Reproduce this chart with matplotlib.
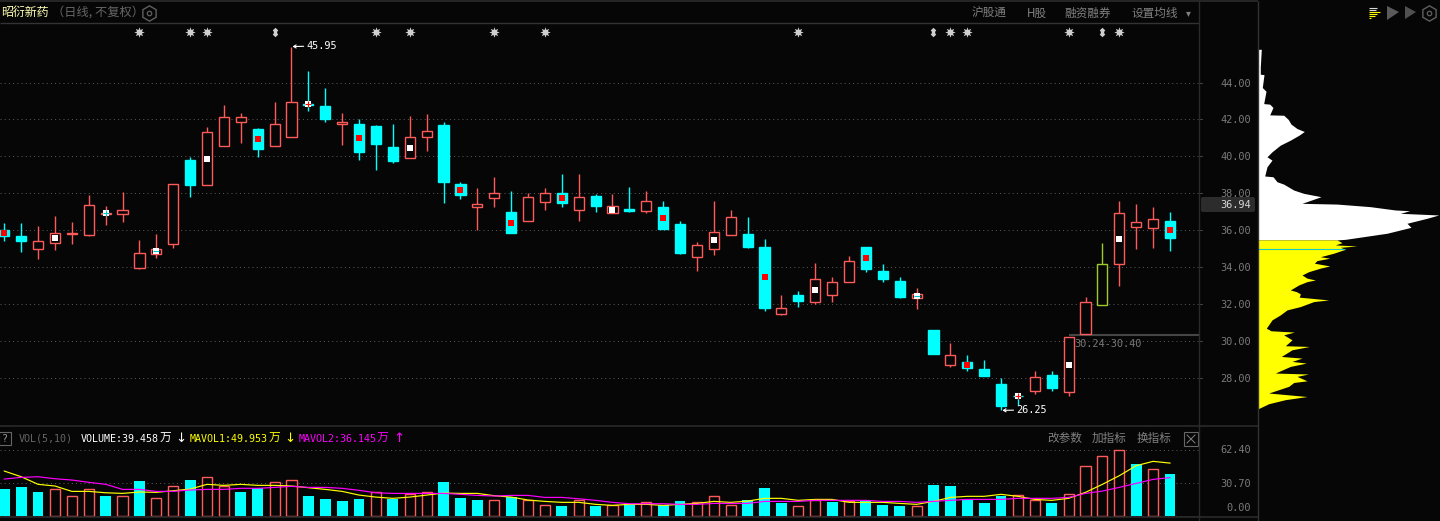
import matplotlib
matplotlib.use("Agg")
import matplotlib.pyplot as plt
import matplotlib.patches as mpatches
import matplotlib.transforms as mtrans
import numpy as np

W, H = 1440, 521
BG = "#060606"
RED = "#ff5a5a"
CYAN = "#00ffff"
GREEN = "#9ecb2a"
GRAY = "#7a7a7a"
CJK = ["Noto Sans CJK SC", "DejaVu Sans"]
MONO = ["DejaVu Sans Mono", "Noto Sans CJK SC"]

opens = [36.02,35.69,34.97,35.30,35.82,35.76,36.90,36.90,33.98,34.74,35.28,39.78,38.46,40.57,41.87,41.48,40.57,41.06,42.83,42.72,
         41.76,41.75,41.64,40.50,39.92,41.06,41.68,38.50,37.28,37.76,36.99,36.52,37.55,38.02,37.11,37.85,36.95,37.15,37.06,37.26,
         36.34,34.57,35.01,35.76,35.80,35.10,31.49,32.50,32.14,32.52,33.22,35.10,33.80,33.26,32.36,30.61,28.68,28.88,28.50,27.69,
         27.05,27.28,28.18,27.22,30.41,31.98,34.19,36.19,36.14,36.50]
closes = [35.69,35.44,35.41,35.84,35.86,37.35,36.95,37.08,34.76,34.97,38.49,38.45,41.30,42.16,42.11,40.41,41.78,42.97,42.80,42.02,
          41.85,40.23,40.66,39.75,41.03,41.35,38.61,37.91,37.41,38.00,35.85,37.78,38.00,37.48,37.78,37.31,37.30,37.04,37.57,36.07,
          34.77,35.19,35.89,36.70,35.10,31.80,31.78,32.18,33.35,33.19,34.32,33.91,33.37,32.39,32.56,29.31,29.24,28.56,28.12,26.50,
          27.01,28.05,27.48,30.22,32.11,34.16,36.92,36.43,36.59,35.58]
highs = [36.38,36.38,36.23,36.77,36.45,37.91,37.31,38.07,35.48,35.80,38.49,39.95,41.58,42.76,42.34,41.53,42.92,45.95,44.61,43.69,
         42.34,42.00,41.68,41.75,42.18,42.29,41.89,38.59,38.29,38.88,38.12,38.02,38.29,39.04,39.04,37.96,37.96,38.34,38.12,37.58,
         36.50,35.37,37.58,37.10,36.72,35.53,32.50,32.72,34.23,33.48,34.61,35.10,34.18,33.48,32.88,30.61,29.91,29.26,28.99,28.02,
         27.21,28.39,28.39,30.24,32.39,35.31,37.58,37.42,37.26,36.99]
lows = [35.44,34.84,34.46,34.94,35.26,35.69,36.29,36.45,33.89,34.50,35.04,37.82,38.46,40.57,40.72,39.98,40.57,41.06,42.45,41.85,
        40.61,39.80,39.26,39.64,39.92,40.29,37.49,37.69,36.00,37.26,35.85,36.52,37.10,37.26,36.50,36.99,36.95,36.99,36.94,36.07,
        34.72,33.80,34.66,35.76,35.04,31.64,31.42,31.85,32.02,32.12,33.22,33.75,33.21,32.34,31.75,29.31,28.61,28.39,28.12,26.25,
        26.56,27.15,27.31,27.04,30.40,31.98,33.01,34.99,35.04,34.88]
green_candles = [65]
red_marks = [0,15,21,27,30,33,39,45,51,57,69]
white_marks = [3,6,9,12,18,24,36,42,48,54,60,63,66]
cross_cyan = [6]
stripe_cyan = [9,54]
cross_red = [18,60]
event_stars = [8,11,12,22,24,29,32,47,56,57,63,66]
event_doubles = [16,55,65]

volume = [25.3,27.2,22.5,25.0,18.4,25.0,18.7,18.4,32.9,16.5,27.9,33.9,36.4,27.9,22.5,26.0,31.7,33.6,18.7,15.8,
          13.9,15.8,22.2,15.8,20.9,22.2,32.0,16.8,14.9,14.6,17.7,14.6,9.8,9.2,14.6,9.2,9.8,10.8,12.7,10.1,
          13.9,12.7,18.4,9.8,14.9,26.3,12.0,8.9,14.6,13.0,13.9,13.9,10.1,9.2,8.9,29.1,28.2,14.9,12.0,18.7,
          19.3,14.6,12.0,20.3,46.9,56.4,62.1,49.1,44.0,39.46]
vol_colors = list("cccrrrcrcrrcrrccrrcc" "ccrcrrcccrcrrcrcrcrc" "crrrcccrrcrcccrccccc" "rrcrrrrcrc")
mavol1 = [42.4,37.0,29.8,28.2,23.1,23.1,21.8,21.2,22.5,22.2,23.7,25.3,29.8,28.8,29.8,28.8,28.8,28.2,26.6,25.0,
          23.1,19.6,17.7,16.5,17.7,19.6,21.5,21.2,21.2,19.0,17.7,14.9,13.6,12.7,12.7,10.8,9.8,10.8,10.8,9.8,
          10.8,11.7,13.6,12.7,13.9,16.5,16.5,14.6,15.5,15.5,12.7,12.7,12.7,11.7,10.8,13.6,17.4,18.4,18.4,20.3,
          18.4,15.5,14.6,16.5,22.2,29.8,38.0,47.5,51.6,49.95]
mavol2 = [34.8,36.4,37.0,35.1,33.9,31.7,29.8,25.0,25.0,23.1,23.1,24.4,25.0,25.0,26.0,26.0,26.9,27.9,26.9,26.9,
          26.0,24.1,21.8,21.2,21.2,21.2,21.2,20.3,19.3,18.7,19.3,19.3,17.4,17.4,16.1,14.6,12.7,11.4,11.4,11.4,
          10.8,10.8,11.7,11.7,11.7,13.6,13.6,13.6,14.6,14.6,14.6,14.6,13.6,13.6,12.7,13.6,14.6,15.5,15.5,15.5,
          16.5,16.5,16.5,17.4,21.2,23.4,26.9,30.7,34.5,36.15]

price_ticks = [44,42,40,38,36,34,32,30,28]
vol_ticks = [62.40,30.70,0.00]
last_price = 36.94
gap_price = 30.34

prof_price_white = [45.80,44.84,44.45,44.43,43.73,43.53,42.86,42.83,42.65,42.25,42.23,42.00,41.75,41.51,41.35,41.15,40.88,40.61,
                    40.25,39.98,39.80,39.44,38.94,38.90,38.63,38.50,38.18,38.00,37.82,37.46,37.42,37.28,37.10,37.06,36.92,36.83,
                    36.65,36.38,36.16,35.84,35.51,35.48]
prof_len_white = [3.3,2.3,2.3,6,4.3,8,5.7,11.7,15,11.7,25.7,30.3,33,39,46.3,41,32.3,22.3,
                  14,9,14,9,6.7,15,19,25.7,35.7,45.7,63,44,79,112.3,137.3,151.7,142.3,180.7,
                  169,149,153,129,87.3,79]
prof_price_yellow = [35.48,35.33,35.21,35.15,35.08,34.97,34.76,34.57,34.49,34.36,34.22,34.07,33.95,33.76,33.58,33.41,33.31,33.22,
                     33.04,32.77,32.68,32.56,32.38,32.23,32.14,31.87,31.69,31.42,31.15,30.70,30.56,30.49,30.34,30.07,29.75,29.71,
                     29.53,29.17,29.08,28.90,28.81,28.63,28.27,28.22,28.09,27.85,27.76,27.55,27.19,27.00,26.83,26.61,26.36]
prof_len_yellow = [79,84,77.3,99,82.3,87.3,75.7,62.3,71.7,59,56.3,71.7,62.3,50.7,44,49,57.3,49,
                   40.7,32.3,38.3,42.3,41.3,70.7,55.7,42.3,29,22.3,14,8.3,13,36.3,25.7,34,27.3,51.3,
                   34,23.3,44,34,48.3,32.3,17.3,50.3,39,49,35.7,30.7,10.7,49,27.3,10.7,1]
prof_peak_price = 34.97
prof_peak_len = 87.3


def rect(l, t, r, b):
    return [l / W, 1 - b / H, (r - l) / W, (b - t) / H]


fig = plt.figure(figsize=(W / 100, H / 100), dpi=100, facecolor=BG)

# pixel overlay for panel frames, headers and icons
ov = fig.add_axes([0, 0, 1, 1], zorder=5)
ov.set_xlim(0, W)
ov.set_ylim(H, 0)
ov.set_axis_off()
ov.patch.set_alpha(0)

# x: centre of candle i sits at 4.3 + 16.894 i pixels
xl = (0 - 4.3) / 16.894
xr = (1199 - 4.3) / 16.894
ytop, ybot = 47.224, 25.404

ax = fig.add_axes(rect(0, 23, 1199, 426), facecolor=BG, zorder=1)
ax.set_xlim(xl, xr)
ax.set_ylim(ybot, ytop)
ax.set_axis_off()

vx = fig.add_axes(rect(0, 427, 1199, 517), facecolor=BG, zorder=1)
vx.set_xlim(xl, xr)
vx.set_ylim(-1.2, 84.2)
vx.set_axis_off()

px = fig.add_axes(rect(1258, 23, 1440, 426), facecolor=BG, zorder=1)
px.set_xlim(0, 182)
px.set_ylim(ybot, ytop)
px.set_axis_off()

dots = (0, (1, 3.2))
ax.hlines(price_ticks, xl, xr, colors="#5a5a5a", linewidth=0.72, linestyles=[dots], zorder=1)
vx.hlines(vol_ticks, xl, xr, colors="#5a5a5a", linewidth=0.72, linestyles=[dots], zorder=1)

idx = np.arange(len(opens))
opens_a, closes_a = np.array(opens), np.array(closes)
tops = np.maximum(opens_a, closes_a)
bots = np.minimum(opens_a, closes_a)
cols = [GREEN if i in green_candles else (RED if closes[i] >= opens[i] else CYAN) for i in idx]
faces = [BG if c != CYAN else CYAN for c in cols]

ax.vlines(idx, lows, highs, colors=cols, linewidth=1.0, zorder=2)
ax.bar(idx, tops - bots, bottom=bots, width=0.6, color=faces, edgecolor=cols, linewidth=1.0, zorder=3)

mids = (tops + bots) / 2
ax.plot(idx[red_marks], mids[red_marks], ls="none", marker="s", ms=4.4, mew=0, color="#ff0000", zorder=4)
ax.plot(idx[white_marks], mids[white_marks], ls="none", marker="s", ms=4.4, mew=0, color="#ffffff", zorder=4)
dx = 3.0 / 16.894
dy = 3.0 / 18.5
for lst, c in ((cross_cyan, "#00c8c8"), (cross_red, "#ff0000")):
    for i in lst:
        ax.hlines(mids[i], i - dx, i + dx, colors=c, linewidth=0.8, zorder=5)
        ax.vlines(i, mids[i] - dy, mids[i] + dy, colors=c, linewidth=0.8, zorder=5)
for i in stripe_cyan:
    ax.hlines(mids[i], i - dx, i + dx, colors="#00c8c8", linewidth=0.8, zorder=5)

# event flags above the candles
strip = mtrans.blended_transform_factory(ax.transData, ov.transData)
ax.plot(event_stars, [32] * len(event_stars), ls="none", marker=(8, 1, 0), ms=7.5, mew=0,
        color="#cfcfcf", transform=strip, clip_on=False, zorder=6)
ax.plot(event_stars, [32] * len(event_stars), ls="none", marker="o", ms=3.6, mew=0,
        color="#cfcfcf", transform=strip, clip_on=False, zorder=6)
for y0 in (29.5, 34.0):
    ax.plot(event_doubles, [y0] * len(event_doubles), ls="none", marker="D", ms=2.8, mew=0,
            color="#cfcfcf", transform=strip, clip_on=False, zorder=6)
ax.vlines(event_doubles, 29, 35, colors="#cfcfcf", linewidth=2.4, transform=strip, clip_on=False, zorder=6)

# high / low labels and gap line
for i, v, txt in ((17, 45.95, "45.95"), (59, 26.25, "26.25")):
    ax.annotate(txt, xy=(i + (0.08 if i == 59 else 0.06), v), xytext=(10.0, 0.4), textcoords="offset points",
                color="#ffffff", fontsize=7.4, family=MONO, va="center", ha="left",
                arrowprops=dict(arrowstyle="->,head_length=0.25,head_width=0.15", color="#ffffff", lw=0.8,
                                shrinkA=0, shrinkB=0), zorder=7)
ax.hlines(gap_price, 63, xr, colors="#454545", linewidth=1.5, zorder=2)
ax.text(63.35, 29.85, "30.24-30.40", color="#777777", fontsize=7.4, family=MONO, va="center", ha="left", zorder=7)

# volume
for i in idx:
    c = vol_colors[i]
    if c == "c":
        vx.bar(i, volume[i], width=0.64, color=CYAN, linewidth=0, zorder=2)
    else:
        vx.bar(i, volume[i], width=0.6, color=BG, edgecolor=RED, linewidth=1.0, zorder=2)
vx.plot(idx, mavol1, color="#ffff00", lw=0.85, zorder=3)
vx.plot(idx, mavol2, color="#ff00ff", lw=0.85, zorder=4)

# chip profile
px.fill_betweenx(prof_price_white, 0, prof_len_white, color="#ffffff", lw=0, antialiased=False)
px.fill_betweenx(prof_price_yellow, 0, prof_len_yellow, color="#ffff00", lw=0, antialiased=False)
px.hlines(prof_peak_price, 0, prof_peak_len, colors="#19c8c8", linewidth=0.8, zorder=3)

# frames
ov.hlines(1, 0, 1258, colors="#262626", linewidth=1.4)
ov.hlines(23, 0, 1199, colors="#333333", linewidth=1.0)
ov.hlines(426, 0, 1258, colors="#2a2a2a", linewidth=1.2)
ov.hlines(517, 0, 1258, colors="#2a2a2a", linewidth=1.2)
ov.vlines(1199, 1, H, colors="#2a2a2a", linewidth=1.0)
ov.vlines(1258, 1, H, colors="#333333", linewidth=1.0)

# axis labels
nudge = mtrans.ScaledTranslation(0, -1 / 100, fig.dpi_scale_trans)
tr_p = mtrans.blended_transform_factory(ov.transData, ax.transData)
tr_v = mtrans.blended_transform_factory(ov.transData, vx.transData)
for p in price_ticks:
    ax.text(1251, p, f"{p:.2f}", transform=tr_p + nudge, color=GRAY, fontsize=7.4, family=MONO,
            ha="right", va="center", clip_on=False, zorder=6)
    ax.plot([1199, 1202], [p, p], color="#444444", lw=0.7, transform=tr_p, clip_on=False)
for v in vol_ticks:
    lift = mtrans.ScaledTranslation(0, 8 / 100 if v == 0 else -0.5 / 100, fig.dpi_scale_trans)
    vx.text(1251, v, f"{v:.2f}", transform=tr_v + lift, color=GRAY, fontsize=7.4, family=MONO,
            ha="right", va="center", clip_on=False, zorder=6)
ov.add_patch(mpatches.FancyBboxPatch((1202, 198), 52, 13, boxstyle="round,pad=1,rounding_size=2",
                                     fc="#2c2c2c", ec="none", zorder=3))
ov.text(1251, 204.5, f"{last_price:.2f}", color="#d8d8d8", fontsize=7.4, family=MONO,
        ha="right", va="center", clip_on=False, zorder=8)

# header
ov.text(1, 12, "昭衍新药", color="#ffffb4", fontsize=8.6, family=CJK, va="center", ha="left")
ov.text(52, 12.5, "（日线, 不复权）", color="#666666", fontsize=8.8, family=CJK, va="center", ha="left")
for x0, y0, s in ((149, 12.5, 11.0), (1429, 12.5, 11.0)):
    ov.plot([x0], [y0], marker=(6, 0, 0), ms=s, mfc="none", mec="#5f5f5f", mew=1.0)
    ov.plot([x0], [y0], marker="o", ms=3.2, mfc="none", mec="#5f5f5f", mew=0.9)
for x0, txt in ((972, "沪股通"), (1027, "H股"), (1064, "融资融券"), (1132, "设置均线")):
    ov.text(x0, 13, txt, color="#808080", fontsize=8.4, family=CJK, va="center", ha="left")
ov.text(1186, 13.5, "▾", color="#808080", fontsize=7, family="DejaVu Sans", va="center", ha="left")

# right-hand icons
for y0, l, c in ((7.5, 8, "#d8d8d8"), (9.5, 7, "#d8d8d8"), (11.5, 11, "#ffff00"), (13.5, 8, "#ffff00"),
                 (15.5, 6, "#ffff00"), (17.5, 2, "#ffff00")):
    ov.hlines(y0, 1369, 1369 + l, colors=c, linewidth=0.8)
ov.fill([1387, 1399, 1387], [6, 12, 20], color="#5a5a5a", lw=0)
ov.fill([1405, 1416, 1405], [6, 12, 19], color="#505050", lw=0)

# volume header
ov.add_patch(plt.Rectangle((-1, 432), 12, 13, fc="none", ec="#666666", lw=0.8))
ov.text(5, 438.5, "?", color="#999999", fontsize=7.2, family=MONO, va="center", ha="center")
ov.text(19, 438.5, "VOL(5,10)", color="#666666", fontsize=7.2, family=MONO, va="center", ha="left")
for x0, txt, c, ax0, arrow in ((81, "VOLUME:39.458", "#ffffff", 180.5, "↓"),
                               (190, "MAVOL1:49.953", "#ffff00", 289.5, "↓"),
                               (298.5, "MAVOL2:36.145", "#ff00ff", 398.5, "↑")):
    ov.text(x0, 438.5, txt, color=c, fontsize=7.2, family=MONO, va="center", ha="left")
    ov.text(x0 + 78.5, 438.5, "万", color=c, fontsize=8.4, family=CJK, va="center", ha="left")
    ov.text(ax0, 438.5, arrow, color=c, fontsize=9.5, family="DejaVu Sans", va="center", ha="center")
for x0, txt in ((1047, "改参数"), (1092, "加指标"), (1137, "换指标")):
    ov.text(x0, 438.5, txt, color="#808080", fontsize=8.4, family=CJK, va="center", ha="left")
ov.add_patch(plt.Rectangle((1184, 432), 13.5, 13.5, fc="none", ec="#666666", lw=0.8))
ov.plot([1187, 1195], [435, 443], color="#808080", lw=0.7)
ov.plot([1187, 1195], [443, 435], color="#808080", lw=0.7)

fig.savefig("out.png", dpi=100, facecolor=BG)
